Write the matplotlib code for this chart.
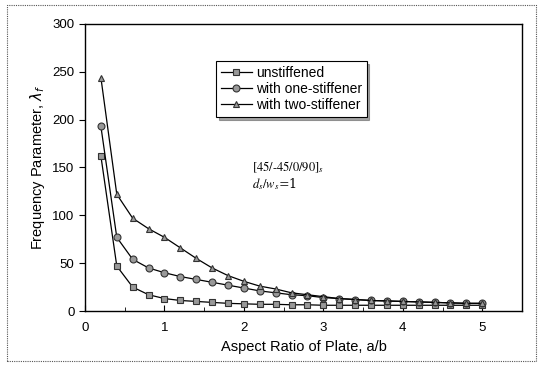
import matplotlib
matplotlib.use('Agg')
import matplotlib.pyplot as plt
from matplotlib.patches import Rectangle

plt.rcParams['font.family'] = ['Liberation Sans', 'DejaVu Sans']

# aspect ratio a/b
x = [0.2, 0.4, 0.6, 0.8, 1.0, 1.2, 1.4, 1.6, 1.8, 2.0, 2.2, 2.4, 2.6,
     2.8, 3.0, 3.2, 3.4, 3.6, 3.8, 4.0, 4.2, 4.4, 4.6, 4.8, 5.0]
unstiffened = [162, 47, 25, 17, 13, 11, 10, 9, 8, 7.5, 7, 7, 6.5,
               6.5, 6, 6, 6, 6, 6, 6, 6, 6, 6, 6, 6]
one_stiff = [193, 77, 54, 45, 40, 36, 33, 30, 27, 24, 21, 19, 17,
             16, 14, 13, 12, 11, 10.5, 10, 9.5, 9, 8.5, 8, 8]
two_stiff = [244, 122, 97, 86, 77, 66, 55, 45, 37, 31, 26, 23, 19,
             17, 15, 13, 12, 11, 10.5, 10, 9.5, 9, 8.5, 8, 8]

fig = plt.figure(figsize=(5.43, 3.66), dpi=100)
ax = fig.add_axes([85/543, 55/366, 437/543, 287/366])

# outer frame
fig.patches.append(Rectangle((0.012, 0.015), 0.975, 0.97, transform=fig.transFigure,
                             fill=False, edgecolor='#555555', lw=0.8, ls=(0, (1, 1))))

style = dict(color='black', lw=0.9, markersize=5, markerfacecolor='#999999',
             markeredgecolor='#333333', markeredgewidth=0.8)
ax.plot(x, unstiffened, marker='s', label='unstiffened', **style)
ax.plot(x, one_stiff, marker='o', label='with one-stiffener', **style)
ax.plot(x, two_stiff, marker='^', label='with two-stiffener', **style)

ax.set_xlim(0, 5.5)
ax.set_ylim(0, 300)
ax.set_xticks([0, 1, 2, 3, 4, 5])
ax.set_xticks([0.5, 1.5, 2.5, 3.5, 4.5], minor=True)
ax.set_yticks([0, 50, 100, 150, 200, 250, 300])
ax.tick_params(axis='x', direction='in', length=4, labelsize=9.5, pad=8)
ax.tick_params(axis='x', which='minor', direction='in', length=3)
ax.tick_params(axis='y', direction='out', length=4, labelsize=9.5)
for s in ax.spines.values():
    s.set_linewidth(1.0)

ax.set_xlabel('Aspect Ratio of Plate, a/b', fontsize=10.5)
ax.set_ylabel(r'Frequency Parameter, $\lambda_f$', fontsize=10.5)

leg = ax.legend(loc='upper left', bbox_to_anchor=(0.30, 0.87), fontsize=10,
                fancybox=False, shadow=True, edgecolor='black',
                handlelength=2.2, handletextpad=0.3, borderpad=0.35,
                labelspacing=0.15, borderaxespad=0)
leg.get_frame().set_linewidth(0.8)

ax.text(2.1, 146, r'$[45/\text{-}45/0/90]_s$', fontsize=9, math_fontfamily='stix')
ax.text(2.1, 128, r'$d_s/w_s$=1', fontsize=9, family='serif', math_fontfamily='stix')

plt.savefig('out.png', dpi=100)
